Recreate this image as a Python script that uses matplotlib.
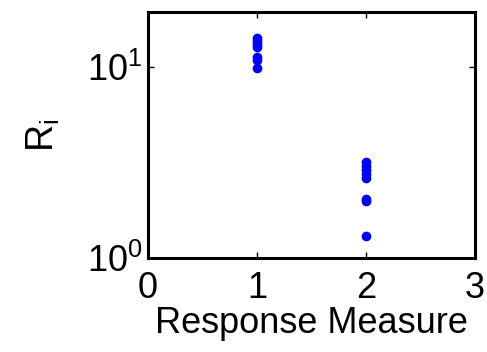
import numpy as np
import matplotlib
matplotlib.use("Agg")
import matplotlib.pyplot as plt

plt.rcParams['font.family'] = ['Liberation Sans', 'DejaVu Sans']
plt.rcParams['mathtext.fontset'] = 'custom'
plt.rcParams['mathtext.rm'] = 'Liberation Sans'
plt.rcParams['mathtext.it'] = 'Liberation Sans'

# values
measure_1 = [14.2, 13.7, 13.2, 12.7, 11.3, 10.9, 9.9]
measure_2 = [3.18, 3.03, 2.89, 2.75, 2.62, 2.04, 1.98, 1.30]
x_ticks = [0, 1, 2, 3]

fig = plt.figure(figsize=(4.87, 3.52), dpi=100)
ax = fig.add_axes([0.304, 0.267, 0.671, 0.699])

ax.plot([1]*len(measure_1), measure_1, 'o', color=(0, 0, 1), ms=7, mec='none')
ax.plot([2]*len(measure_2), measure_2, 'o', color=(0, 0, 1), ms=7, mec='none')

ax.set_yscale('log')
ax.set_ylim(1, 19.4)
ax.set_xlim(0, 3)
ax.set_xticks(x_ticks)
ax.yaxis.set_minor_locator(matplotlib.ticker.NullLocator())

for s in ax.spines.values():
    s.set_linewidth(2.2)
ax.tick_params(direction='in', top=True, right=True, length=4, width=1,
               labelsize=26)
ax.tick_params(axis='x', pad=9)
ax.tick_params(axis='y', pad=4)

ax.set_xlabel('Response Measure', fontsize=26, labelpad=0)
ax.set_ylabel(r'$\mathregular{R_i}$', fontsize=27, labelpad=18)

fig.savefig('out.png', dpi=100)
